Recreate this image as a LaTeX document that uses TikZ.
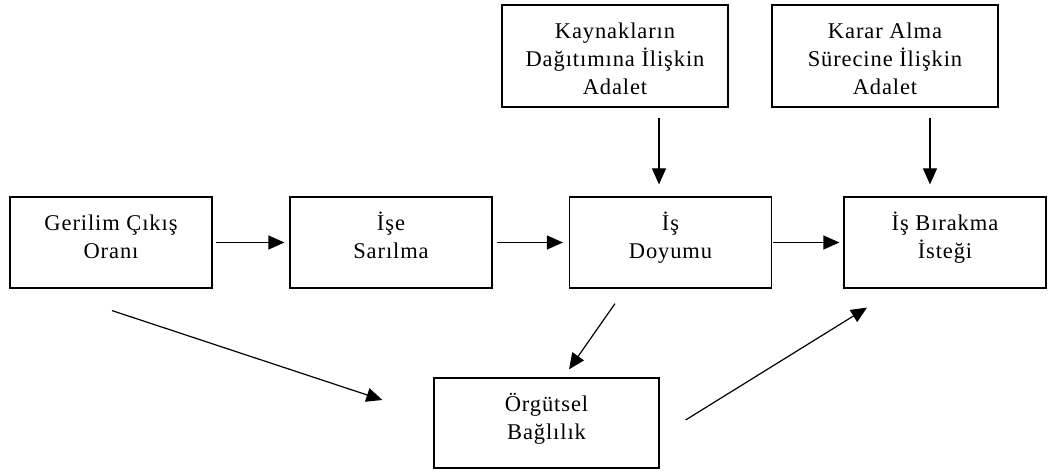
\documentclass[tikz,border=0pt]{standalone}
\usepackage{fontspec}
\setmainfont{Liberation Serif}[LetterSpace=4]
\usetikzlibrary{arrows.meta,calc}

\tikzset{
  frame/.style={draw, line width=1.2pt, inner sep=0pt, minimum width=202pt, minimum height=91pt},
  wideframe/.style={frame, minimum width=226pt, minimum height=102pt},
  label text/.style={anchor=north, inner sep=0pt, align=center,
    font=\fontsize{22.5}{28}\selectfont},
  arr/.style={line width=1.2pt, -{Triangle[length=16pt,width=14pt]}},
}

\begin{document}
\begin{tikzpicture}[x=1pt, y=-1pt]
\useasboundingbox (0,0) rectangle (1050,473);

% middle row
\node[frame] (g) at (111,242.5) {};
\node[frame] (i) at (391,242.5) {};
\node[frame] (d) at (670.5,242.5) {};
\node[frame] (b) at (945,242.5) {};
% upper row
\node[wideframe] (ka) at (615,56) {};
\node[wideframe] (kr) at (885,56) {};
% lower box
\node[frame, minimum width=225pt, minimum height=90pt] (o) at (546.5,423) {};

% texts
\node[label text] (g-t) at ($(g.north)+(0,14)$) {\strut Gerilim Çıkış\\\strut Oranı};
\node[label text] (i-t) at ($(i.north)+(0,14)$) {\strut İşe\\\strut Sarılma};
\node[label text] (d-t) at ($(d.north)+(0,14)$) {\strut İş\\\strut Doyumu};
\node[label text] (b-t) at ($(b.north)+(0,14)$) {\strut İş Bırakma\\\strut İsteği};
\node[label text] (ka-t) at ($(ka.north)+(0,14)$) {\strut Kaynakların\\\strut Dağıtımına İlişkin\\\strut Adalet};
\node[label text] (kr-t) at ($(kr.north)+(0,14)$) {\strut Karar Alma\\\strut Sürecine İlişkin\\\strut Adalet};
\node[label text] (o-t) at ($(o.north)+(0,14)$) {\strut Örgütsel\\\strut Bağlılık};

% horizontal chain
\draw[arr, shorten <=3pt, shorten >=5pt] (g) -- (i);
\draw[arr, shorten <=4pt, shorten >=6pt] (i) -- (d);
\draw[arr, shorten <=1pt, shorten >=4pt] (d) -- (b);

% arrow end points
\coordinate (ka-s) at ($(ka.south)+(44,10)$);
\coordinate (d-n)  at ($(d.north)+(-11.5,-12)$);
\coordinate (kr-s) at ($(kr.south)+(45,10)$);
\coordinate (b-n)  at ($(b.north)+(-15,-12)$);
\coordinate (g-s)  at ($(g.south)+(1,22)$);
\coordinate (o-w)  at ($(o.west)+(-51,-23)$);
\coordinate (d-s)  at ($(d.south)+(-55.5,15)$);
\coordinate (o-n)  at ($(o.north)+(22.5,-8)$);
\coordinate (o-e)  at ($(o.east)+(26,-3)$);
\coordinate (b-s)  at ($(b.south)+(-78,19)$);

% vertical arrows
\draw[arr] (ka-s) -- (d-n);
\draw[arr] (kr-s) -- (b-n);

% diagonal arrows
\draw[arr] (g-s) -- (o-w);
\draw[arr] (d-s) -- (o-n);
\draw[arr] (o-e) -- (b-s);
\end{tikzpicture}
\end{document}
